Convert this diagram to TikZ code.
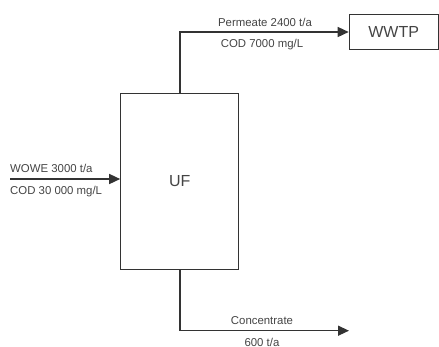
\documentclass[tikz,border=0pt]{standalone}
\usepackage{fontspec}
\setmainfont{Liberation Sans}
\usetikzlibrary{arrows.meta}
\definecolor{linegray}{HTML}{333333}
\definecolor{textgray}{HTML}{444444}

\begin{document}
\begin{tikzpicture}[x=1pt,y=-1pt,inner sep=0pt,
  unit/.style={draw=linegray,line width=1pt,text=textgray,font=\fontsize{16}{18}\selectfont},
  flow/.style={draw=linegray,line width=1.4pt,-{Triangle[length=11pt,width=10pt]}},
  lbl/.style={text=textgray,font=\fontsize{11.4}{13}\selectfont}]
\useasboundingbox (0,0) rectangle (439,346);
\node[unit,minimum width=118pt,minimum height=176pt] (uf) at (179.7,181.2) {UF};
\node[unit,minimum width=89pt,minimum height=35.4pt] (wwtp) at (393.7,32) {WWTP};
\coordinate (feed) at (10,179);
\coordinate (p1) at (180,32);
\coordinate (c1) at (180,330.7);
\coordinate (cend) at (349,330.7);

\draw[flow] (feed) -- (feed -| uf.west);
\draw[flow] (uf.north -| p1) -- (p1) -- (wwtp.west);
\draw[flow] (uf.south -| c1) -- (c1) -- (cend);

\node[lbl,anchor=west] (wowe) at (10,168) {WOWE 3000 t/a};
\node[lbl,anchor=west] (codin) at (10,192) {COD 30 000 mg/L};
\node[lbl] (perm) at (265,22.5) {Permeate 2400 t/a};
\node[lbl] (codout) at (262,45) {COD 7000 mg/L};
\node[lbl] (conc) at (262,321) {Concentrate};
\node[lbl] (mass) at (262,342) {600 t/a};
\end{tikzpicture}
\end{document}
